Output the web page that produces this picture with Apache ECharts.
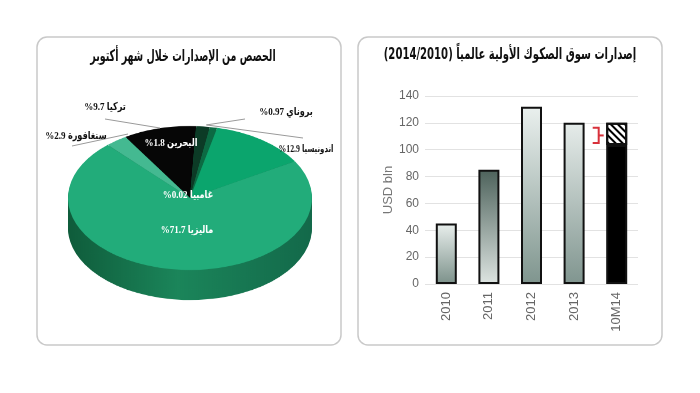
<!DOCTYPE html>
<html><head><meta charset="utf-8">
<script src="https://cdn.jsdelivr.net/npm/echarts@6/dist/echarts.min.js"></script>
<style>
html,body{margin:0;padding:0;background:#fff;}
#wrap{position:relative;width:700px;height:393px;overflow:hidden;background:#fff;}
#pie{position:absolute;left:0;top:0;width:380px;height:560px;transform-origin:0 0;}
#main{position:absolute;left:0;top:0;width:700px;height:393px;}
</style></head><body>
<div id="wrap"><div id="pie"></div><div id="main"></div></div>
<script>
// ---- data ----
const pieTitle = 'الحصص من الإصدارات خلال شهر أكتوبر';
const pieNames = ['تركيا', 'البحرين', 'بروناي', 'اندونيسيا', 'ماليزيا', 'غامبيا', 'سنغافورة'];
const pieValues = [9.7, 1.8, 0.97, 12.9, 71.7, 0.02, 2.9];
const barTitle = '(2014/2010) إصدارات سوق الصكوك الأولية عالمياً';
const years = ['2010', '2011', '2012', '2013', '10M14'];
const issuance = [45, 85, 132, 120, 103.5];
const issuanceExtra = ['-', '-', '-', '-', 16.5];
const yAxisName = 'USD bln';

// ---- styles ----
const pieColors = ['#060606', '#0c3b26', '#0c6a43', '#0ba56d', '#22ac7a', '#22ac7a', '#44b991'];
const barFills = [
  ['#e9efed', '#7c918a'],
  ['#4d625b', '#dde4e1'],
  ['#eaf0ee', '#7f958e'],
  ['#e6ecea', '#80958f'],
  ['#000000', '#000000']
];
const arFont = "'DejaVu Sans Condensed', 'DejaVu Sans', sans-serif";
const lblFont = "'Liberation Serif', 'DejaVu Sans Condensed', serif";

// ---- pie (squashed to look like a tilted 3D pie) ----
const k = 72 / 122;
const pieDiv = document.getElementById('pie');
pieDiv.style.transform = 'scaleY(' + k + ')';
const pieChart = echarts.init(pieDiv, null, {renderer: 'canvas'});
const cx = 190, cyU = 198 / k, R = 122, depth = 30 / k;
const pieSeries = [];
const sideGrad = new echarts.graphic.LinearGradient(0, 0, 1, 0, [
  {offset: 0, color: '#0f5c3b'}, {offset: 0.45, color: '#1b855a'}, {offset: 1, color: '#13694a'}]);
const steps = 16;
for (let i = steps; i >= 1; i--) {
  pieSeries.push({
    type: 'pie', silent: true, radius: R, center: [cx, cyU + depth * i / steps],
    startAngle: 122, label: {show: false}, labelLine: {show: false},
    itemStyle: {color: sideGrad, borderWidth: 0},
    data: pieValues.map((v, j) => ({name: pieNames[j], value: v}))
  });
}
pieSeries.push({
  type: 'pie', silent: true, radius: R, center: [cx, cyU], startAngle: 122,
  label: {show: false}, labelLine: {show: false},
  itemStyle: {borderWidth: 0},
  data: pieValues.map((v, j) => ({name: pieNames[j], value: v, itemStyle: {color: pieColors[j]}}))
});
pieChart.setOption({animation: false, series: pieSeries});

// ---- main chart ----
const chart = echarts.init(document.getElementById('main'), null, {renderer: 'canvas'});
const lab = i => '%' + pieValues[i] + ' ' + pieNames[i];
function txt(x, y, s, color, size, sx) {
  return {type: 'text', x: x, y: y, z: 10, scaleX: sx || 0.82,
    style: {text: s, fill: color, font: 'bold ' + size + 'px ' + lblFont, textAlign: 'center', textVerticalAlign: 'middle'}};
}
function line(x1, y1, x2, y2) {
  return {type: 'line', z: 9, shape: {x1: x1, y1: y1, x2: x2, y2: y2}, style: {stroke: '#9a9a9a', lineWidth: 1}};
}
const graphics = [
  {type: 'rect', shape: {x: 37, y: 37, width: 304, height: 308, r: 10}, style: {fill: 'none', stroke: '#c9c9c9', lineWidth: 1.5}},
  {type: 'rect', shape: {x: 358, y: 37, width: 304, height: 308, r: 10}, style: {fill: 'none', stroke: '#c9c9c9', lineWidth: 1.5}},
  {type: 'text', x: 183, y: 57, scaleX: 0.66, style: {text: pieTitle, fill: '#111', font: 'bold 16px ' + arFont, textAlign: 'center', textVerticalAlign: 'middle'}},
  {type: 'text', x: 510, y: 55, scaleX: 0.7, style: {text: barTitle, fill: '#111', font: 'bold 16px ' + arFont, textAlign: 'center', textVerticalAlign: 'middle'}},
  line(105, 119, 160, 128),
  line(72, 146, 128, 134),
  line(245, 119, 206, 125),
  line(207, 125, 303, 138),
  txt(105, 107, lab(0), '#111', 11),
  txt(171, 143, lab(1), '#fff', 11),
  txt(286, 112, lab(2), '#111', 11),
  txt(306, 149, lab(3), '#111', 10, 0.78),
  txt(188, 195, lab(5), '#fff', 11),
  txt(76, 136, lab(6), '#111', 11),
  txt(187, 230, lab(4), '#fff', 11)
];

chart.setOption({
  animation: false,
  backgroundColor: 'transparent',
  grid: {left: 425, right: 62, top: 96, bottom: 109, containLabel: false},
  xAxis: {
    type: 'category', data: years,
    axisLine: {show: false}, axisTick: {show: false},
    axisLabel: {rotate: 90, color: '#666', fontSize: 13, fontFamily: "'Liberation Sans Narrow', 'Liberation Sans', sans-serif", margin: 8}
  },
  yAxis: {
    type: 'value', min: 0, max: 140, interval: 20,
    name: yAxisName, nameLocation: 'middle', nameGap: 24, nameRotate: 90,
    nameTextStyle: {color: '#777', fontSize: 13, fontFamily: "'Liberation Sans', sans-serif"},
    axisLine: {show: false}, axisTick: {show: false},
    axisLabel: {color: '#666', fontSize: 12, fontFamily: "'Liberation Sans Narrow', 'Liberation Sans', sans-serif", margin: 6},
    splitLine: {lineStyle: {color: '#e2e2e2', width: 1}}
  },
  series: [
    {
      type: 'bar', stack: 's', barWidth: 21,
      itemStyle: {borderColor: '#111', borderWidth: 2},
      data: issuance.map((v, i) => ({value: v, itemStyle: {color: new echarts.graphic.LinearGradient(0, 0, 0, 1, [
        {offset: 0, color: barFills[i][0]}, {offset: 1, color: barFills[i][1]}])}}))
    },
    {
      type: 'bar', stack: 's', barWidth: 21,
      itemStyle: {color: '#fff', borderColor: '#111', borderWidth: 2,
        decal: {symbol: 'rect', color: '#000', dashArrayX: [1, 0], dashArrayY: [2, 3], rotation: Math.PI / 4, symbolSize: 1}},
      data: issuanceExtra
    }
  ],
  graphic: graphics
});

// red bracket marking the hatched part, positioned from the data scale
const last = years.length - 1;
const pTop = chart.convertToPixel({gridIndex: 0}, [years[last], issuance[last] + issuanceExtra[last]]);
const pBase = chart.convertToPixel({gridIndex: 0}, [years[last], issuance[last]]);
const bx = pTop[0] - 11 - 7;
const yT = pTop[1] + 5, yB = pBase[1] - 2, yM = (yT + yB) / 2;
graphics.push({type: 'polyline', z: 10, shape: {points: [[bx - 6, yT], [bx, yT], [bx, yB], [bx - 6, yB]]}, style: {stroke: '#d8313b', lineWidth: 2, fill: null}});
graphics.push({type: 'line', z: 10, shape: {x1: bx, y1: yM, x2: bx + 5, y2: yM}, style: {stroke: '#d8313b', lineWidth: 2}});
chart.setOption({graphic: graphics}, {replaceMerge: ['graphic']});
</script>
</body></html>
